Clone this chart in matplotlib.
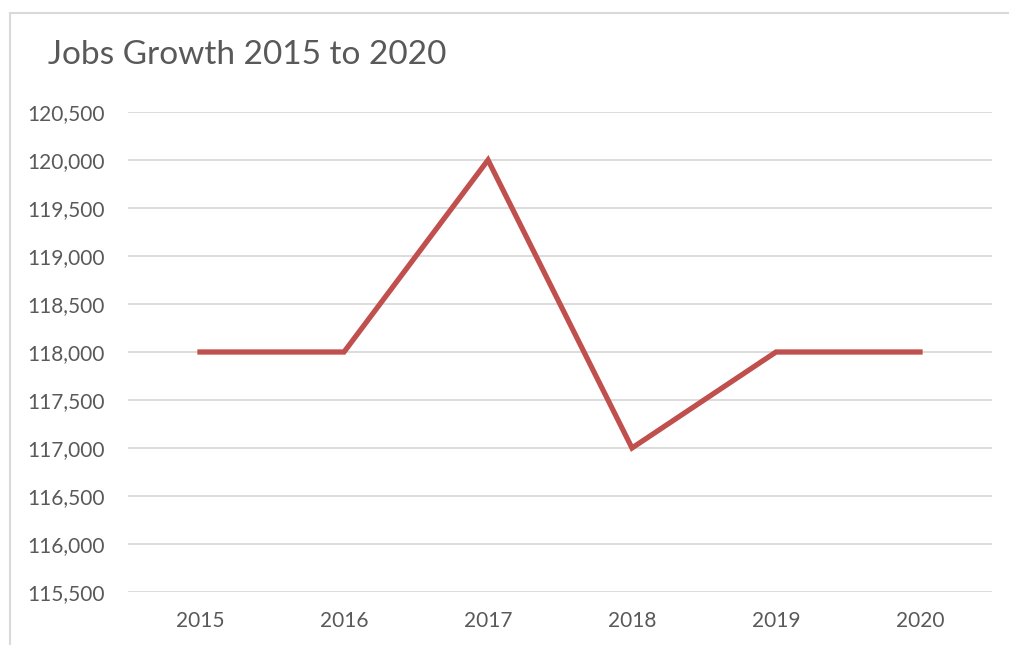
import matplotlib
matplotlib.use('Agg')
from matplotlib import pyplot as plt
from matplotlib.patches import Rectangle
from matplotlib.ticker import FuncFormatter

years = ['2015', '2016', '2017', '2018', '2019', '2020']
jobs = [118000, 118000, 120000, 117000, 118000, 118000]
y_ticks = [115500, 116000, 116500, 117000, 117500, 118000, 118500,
           119000, 119500, 120000, 120500]

plt.rcParams['font.family'] = ['Lato', 'DejaVu Sans']

fig = plt.figure(figsize=(10.09, 6.45), dpi=100)
W, H = 1009, 645

# chart frame, cut off at right and bottom like the screenshot
fig.patches.append(Rectangle((10 / W, -0.1), 1.2, (H - 13) / H + 0.1,
                             transform=fig.transFigure, fill=False,
                             edgecolor='#D9D9D9', linewidth=1.5))

ax = fig.add_axes([128 / W, (H - 592) / H, (992 - 128) / W, (592 - 112) / H])
x = list(range(len(years)))
ax.plot(x, jobs, color='#C0504D', linewidth=3.8, solid_joinstyle='miter', zorder=3)

ax.set_xlim(-0.5, len(years) - 0.5)
ax.set_ylim(y_ticks[0], y_ticks[-1])
ax.set_yticks(y_ticks)
ax.yaxis.set_major_formatter(FuncFormatter(lambda v, p: '{:,.0f}'.format(v)))
ax.set_xticks(x)
ax.set_xticklabels(years)
ax.grid(axis='y', color='#D9D9D9', linewidth=1.3)
ax.set_axisbelow(True)
for s in ax.spines.values():
    s.set_visible(False)
ax.tick_params(length=0, labelsize=15, colors='#595959')
ax.tick_params(axis='y', pad=17)
ax.tick_params(axis='x', pad=14)

fig.text(48 / W, 1 - 55 / H, 'Jobs Growth 2015 to 2020', fontsize=24,
         color='#595959', va='center', ha='left')

fig.savefig('out.png', dpi=100)
